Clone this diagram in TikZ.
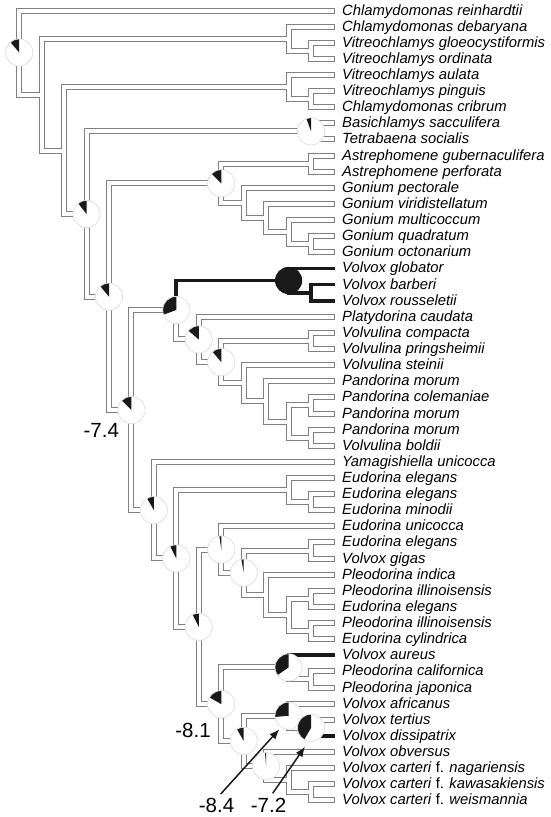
\documentclass[tikz,border=0pt]{standalone}
\usepackage{fontspec}
\setmainfont{Liberation Sans}
\usetikzlibrary{calc,arrows.meta}
\newcommand\inode[4]{\coordinate (tmpc) at ($(#3)!.5!(#4)$); \coordinate (#1) at (tmpc -| xl#2);}
\newcommand\Ebr[2]{\draw[edgepass] (#1) |- (#2);}
\newcommand\Elf[2]{\draw[edgepass,leafpass] (#1) |- (#2);}
\newcommand\piechart[2]{%
  \fill[white] (#1) circle[radius=13.6pt];
  \fill[black!90] (#1) -- ++(90:13.6pt) arc[start angle=90, delta angle=#2, radius=13.6pt] -- cycle;
  \draw[piebd] (#1) circle[radius=13.6pt];}
\newcommand\edgelist{%
\Ebr{root}{A} \Elf{root}{L1}
\Ebr{A}{B} \Ebr{A}{C}
\Elf{B}{L2} \Ebr{B}{P34} \Elf{P34}{L3} \Elf{P34}{L4}
\Ebr{C}{D} \Ebr{C}{E}
\Elf{D}{L5} \Ebr{D}{P67} \Elf{P67}{L6} \Elf{P67}{L7}
\Ebr{E}{P89} \Ebr{E}{F} \Elf{P89}{L8} \Elf{P89}{L9}
\Ebr{F}{G} \Ebr{F}{H}
\Ebr{G}{P1011} \Ebr{G}{Gon} \Elf{P1011}{L10} \Elf{P1011}{L11}
\Elf{Gon}{L12} \Ebr{Gon}{G15} \Elf{G15}{L13} \Ebr{G15}{G16} \Elf{G16}{L14} \Ebr{G16}{P1516} \Elf{P1516}{L15} \Elf{P1516}{L16}
\Ebr{H}{I} \Ebr{H}{J}
\Ebr{I}{Lc}
\Elf{Lc}{L20} \Ebr{Lc}{M}
\Ebr{M}{N} \Ebr{M}{O} \Elf{N}{L21} \Elf{N}{L22}
\Elf{O}{L23} \Ebr{O}{P} \Elf{P}{L24} \Ebr{P}{Q} \Ebr{Q}{R} \Ebr{Q}{S} \Elf{R}{L25} \Elf{R}{L26} \Elf{S}{L27} \Elf{S}{L28}
\Elf{J}{L29} \Ebr{J}{T}
\Ebr{T}{U} \Ebr{T}{V} \Elf{U}{L30} \Ebr{U}{P3132} \Elf{P3132}{L31} \Elf{P3132}{L32}
\Ebr{V}{X} \Ebr{V}{W}
\Elf{X}{L33} \Ebr{X}{Y} \Ebr{Y}{Z} \Ebr{Y}{AA} \Elf{Z}{L34} \Elf{Z}{L35}
\Elf{AA}{L36} \Ebr{AA}{AB} \Ebr{AB}{P3738} \Ebr{AB}{P3940} \Elf{P3738}{L37} \Elf{P3738}{L38} \Elf{P3940}{L39} \Elf{P3940}{L40}
\Ebr{W}{AC} \Ebr{W}{AD}
\Ebr{AC}{P4243} \Elf{P4243}{L42} \Elf{P4243}{L43}
\Ebr{AD}{AE} \Ebr{AD}{AF}
\Elf{AE}{L44} \Ebr{AE}{AG} \Elf{AG}{L45}
\Elf{AF}{L47} \Ebr{AF}{AH} \Elf{AH}{L48} \Ebr{AH}{P4950} \Elf{P4950}{L49} \Elf{P4950}{L50}
}
\begin{document}
\begin{tikzpicture}[x=1pt,y=-1pt,
  outer/.style={draw=black!50, line width=6pt},
  inner/.style={draw=white, line width=4pt},
  blk/.style={draw=black!90, line width=3.8pt},
  lab/.style={anchor=base west, inner sep=0pt, font=\fontsize{14.8}{17}\selectfont\itshape},
  num/.style={inner sep=0pt, font=\fontsize{20.5}{23}\selectfont},
  arr/.style={-{Latex[length=10pt,width=8pt]}, line width=1.5pt, draw=black!90, fill=black!90},
  piebd/.style={draw=black!13, line width=0.7pt}
]
\useasboundingbox (0,0) rectangle (550,817);
\foreach \i in {1,...,50} \coordinate (L\i) at (335, {10.5+(\i-1)*16.12});
\foreach \k in {0,...,13} \coordinate (xl\k) at ({19.2+22.45*\k}, 0);
% terminal pairs
\inode{P34}{13}{L3}{L4}
\inode{P67}{13}{L6}{L7}
\inode{P89}{13}{L8}{L9}
\inode{P1011}{13}{L10}{L11}
\inode{P1516}{13}{L15}{L16}
\inode{P1819}{13}{L18}{L19}
\inode{N}{13}{L21}{L22}
\inode{R}{13}{L25}{L26}
\inode{S}{13}{L27}{L28}
\inode{P3132}{13}{L31}{L32}
\inode{Z}{13}{L34}{L35}
\inode{P3738}{13}{L37}{L38}
\inode{P3940}{13}{L39}{L40}
\inode{P4243}{13}{L42}{L43}
\inode{AG}{13}{L45}{L46}
\inode{P4950}{13}{L49}{L50}
\inode{B}{12}{L2}{P34}
\inode{D}{12}{L5}{P67}
\inode{G16}{12}{L14}{P1516}
\inode{K}{12}{L17}{P1819}
\inode{Q}{12}{R}{S}
\inode{U}{12}{L30}{P3132}
\inode{AB}{12}{P3738}{P3940}
\inode{AC}{12}{L41}{P4243}
\inode{AE}{12}{L44}{AG}
\inode{AH}{12}{L48}{P4950}
\inode{G15}{11}{L13}{G16}
\inode{P}{11}{L24}{Q}
\inode{AA}{11}{L36}{AB}
\inode{AF}{11}{L47}{AH}
\inode{Gon}{10}{L12}{G15}
\inode{O}{10}{L23}{P}
\inode{Y}{10}{Z}{AA}
\inode{AD}{10}{AE}{AF}
\inode{G}{9}{P1011}{Gon}
\inode{M}{9}{N}{O}
\inode{X}{9}{L33}{Y}
\inode{W}{9}{AC}{AD}
\inode{Lc}{8}{L20}{M}
\inode{V}{8}{X}{W}
\inode{I}{7}{K}{Lc}
\inode{T}{7}{U}{V}
\inode{J}{6}{L29}{T}
\inode{H}{5}{I}{J}
\inode{F}{4}{G}{H}
\inode{E}{3}{P89}{F}
\inode{C}{2}{D}{E}
\inode{A}{1}{B}{C}
\inode{root}{0}{L1}{A}
% hollow branches: outline pass, then inner pass
\tikzset{edgepass/.style={outer}, leafpass/.style={}}
\edgelist
\tikzset{edgepass/.style={inner}, leafpass/.style={shorten >=1pt}}
\edgelist
% black branches
\draw[blk] (I) |- (K);
\draw[blk] (K) |- (L17);
\draw[blk] (K) |- (P1819);
\draw[blk] (P1819) |- (L18);
\draw[blk] (P1819) |- (L19);
\draw[blk] (AC) |- (L41);
\draw[blk] (AG) |- (L46);
% pies
\piechart{root}{40}
\piechart{E}{38}
\piechart{F}{40}
\piechart{H}{45}
\piechart{G}{45}
\piechart{P89}{20}
\piechart{I}{110}
\fill[black!90] (K) circle[radius=13.6pt];
\piechart{Lc}{50}
\piechart{M}{40}
\piechart{J}{30}
\piechart{T}{27}
\piechart{V}{27}
\piechart{X}{8}
\piechart{Y}{10}
\piechart{W}{60}
\piechart{AC}{125}
\piechart{AD}{30}
\piechart{AF}{5}
\piechart{AE}{95}
\piechart{AG}{150}
% leaf labels
\foreach \i/\t in {
1/{Chlamydomonas reinhardtii},
2/{Chlamydomonas debaryana},
3/{Vitreochlamys gloeocystiformis},
4/{Vitreochlamys ordinata},
5/{Vitreochlamys aulata},
6/{Vitreochlamys pinguis},
7/{Chlamydomonas cribrum},
8/{Basichlamys sacculifera},
9/{Tetrabaena socialis},
10/{Astrephomene gubernaculifera},
11/{Astrephomene perforata},
12/{Gonium pectorale},
13/{Gonium viridistellatum},
14/{Gonium multicoccum},
15/{Gonium quadratum},
16/{Gonium octonarium},
17/{Volvox globator},
18/{Volvox barberi},
19/{Volvox rousseletii},
20/{Platydorina caudata},
21/{Volvulina compacta},
22/{Volvulina pringsheimii},
23/{Volvulina steinii},
24/{Pandorina morum},
25/{Pandorina colemaniae},
26/{Pandorina morum},
27/{Pandorina morum},
28/{Volvulina boldii},
29/{Yamagishiella unicocca},
30/{Eudorina elegans},
31/{Eudorina elegans},
32/{Eudorina minodii},
33/{Eudorina unicocca},
34/{Eudorina elegans},
35/{Volvox gigas},
36/{Pleodorina indica},
37/{Pleodorina illinoisensis},
38/{Eudorina elegans},
39/{Pleodorina illinoisensis},
40/{Eudorina cylindrica},
41/{Volvox aureus},
42/{Pleodorina californica},
43/{Pleodorina japonica},
44/{Volvox africanus},
45/{Volvox tertius},
46/{Volvox dissipatrix},
47/{Volvox obversus},
48/{Volvox carteri \textup{f.} nagariensis},
49/{Volvox carteri \textup{f.} kawasakiensis},
50/{Volvox carteri \textup{f.} weismannia}}
  \node[lab] (t\i) at ($(L\i)+(7,4.5)$) {\t};
% values
\node[num] (v74) at (101.3,430.5) {-7.4};
\node[num] (v81) at (193,730) {-8.1};
\node[num] (v84) at (216.5,805) {-8.4};
\node[num] (v72) at (268.5,805) {-7.2};
\coordinate (a1s) at (220.7,794);
\coordinate (a1e) at (279.3,729.3);
\coordinate (a2s) at (272.7,793.3);
\coordinate (a2e) at (305,746.7);
\draw[arr] (a1s) -- (a1e);
\draw[arr] (a2s) -- (a2e);
\end{tikzpicture}
\end{document}
